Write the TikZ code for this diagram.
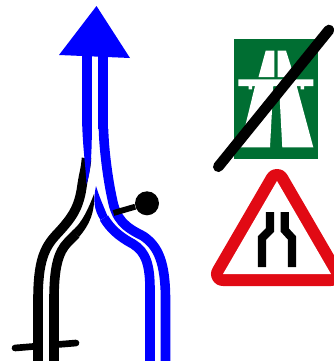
\documentclass[tikz,border=0pt]{standalone}
\definecolor{mwgreen}{RGB}{0,110,50}
\definecolor{sred}{RGB}{225,10,20}
\tikzset{
 lane/.style={line width=7.2pt,line cap=butt},
 blacklane/.style={lane,black},
 bluelane/.style={lane,blue},
 tickline/.style={black,line width=5pt,line cap=round},
 nosign/.style={black,line width=8pt,line cap=round},
 sroad/.style={black,line width=6.2pt,line cap=butt,line join=miter},
}
\begin{document}
\begin{tikzpicture}[x=0.75pt,y=-0.75pt]
\useasboundingbox (0,0) rectangle (333,361);
% crossing tick, hidden between the lanes
\coordinate (tl) at (15,348);
\coordinate (tr) at (76,343);
\draw[tickline] (tl) -- (tr);
\fill[white] (42,330) rectangle (50,361);
% black lanes
\draw[blacklane] (38,361) -- (38,300) .. controls (38,262) and (44,248) .. (56,235) .. controls (72,218) and (79,208) .. (82,186) .. controls (83.5,175) and (86,168) .. (86.5,158);
\draw[blacklane] (54,361) -- (54,300) .. controls (54,268) and (58,252) .. (68,242) -- (76,234);
\fill[black] (72,231) .. controls (78,226) and (85,218) .. (94,194) .. controls (95,212) and (90,224) .. (79,237) -- cycle;
% blue lanes
\draw[bluelane] (165.5,361) -- (165.5,300) .. controls (165.5,262) and (158,246) .. (143,236) .. controls (125,227) and (116,220) .. (112,198) .. controls (108,180) and (104,150) .. (103.5,129);
\draw[bluelane] (150,361) -- (150,290) .. controls (150,265) and (146,252) .. (133,244) .. controls (118,236) and (110,228) .. (104,218);
\fill[blue] (96,186) .. controls (99,196) and (103,205) .. (107.5,216) -- (100.5,220) .. controls (94,210) and (93,200) .. (96,186) -- cycle;
\draw[bluelane] (103,129) -- (103,56);
\draw[bluelane] (87,56) -- (87,126);
\fill[blue] (82.2,125) -- (91.8,125) .. controls (92,150) and (91,172) .. (86.5,184) .. controls (86,170) and (83,150) .. (82.2,125) -- cycle;
% arrowhead
\coordinate (hl) at (59,55);
\coordinate (hr) at (130,58);
\coordinate (ht) at (96.5,6);
\fill[blue] (hl) -- (ht) -- (hr) -- cycle;
% ball on its stem
\coordinate (ca) at (113.5,213);
\node[circle,fill=black,minimum size=18pt,inner sep=0pt] (ball) at (147,203.3) {};
\draw[black,line width=4.4pt] (ca) -- (ball);
% motorway sign
\fill[mwgreen] (234,39) rectangle (317.7,158.5);
\fill[white] (265.7,50.7) -- (274.3,50.7) -- (274.3,77) -- (258.5,77) -- cycle;
\fill[white] (277.7,50.7) -- (286,50.7) -- (294.3,77) -- (277.7,77) -- cycle;
\fill[white] (238.3,79.3) -- (313.3,79.3) -- (313.3,86) -- (304,86) -- (304,89.3) -- (300.7,89.3) -- (300.7,86) -- (252,86) -- (252,89.3) -- (248.5,89.3) -- (248.5,86) -- (238.3,86) -- cycle;
\fill[white] (255,86) -- (273.3,86) -- (270,147.3) -- (240,147.3) -- cycle;
\fill[white] (279,86) -- (296.7,86) -- (313.3,147.3) -- (282.3,147.3) -- cycle;
\coordinate (na) at (218.3,166.7);
\coordinate (nb) at (329,30);
\draw[nosign] (na) -- (nb);
% warning sign
\draw[sred,line width=18pt,line join=round] (277,181) -- (331,274) -- (223,274) -- cycle;
\fill[white] (277,181) -- (331,274) -- (223,274) -- cycle;
\draw[sroad] (270,212) -- (270,230) -- (262,238) -- (262,267);
\draw[sroad] (284.7,212) -- (284.7,230) -- (292,238) -- (292,267);
\end{tikzpicture}
\end{document}
